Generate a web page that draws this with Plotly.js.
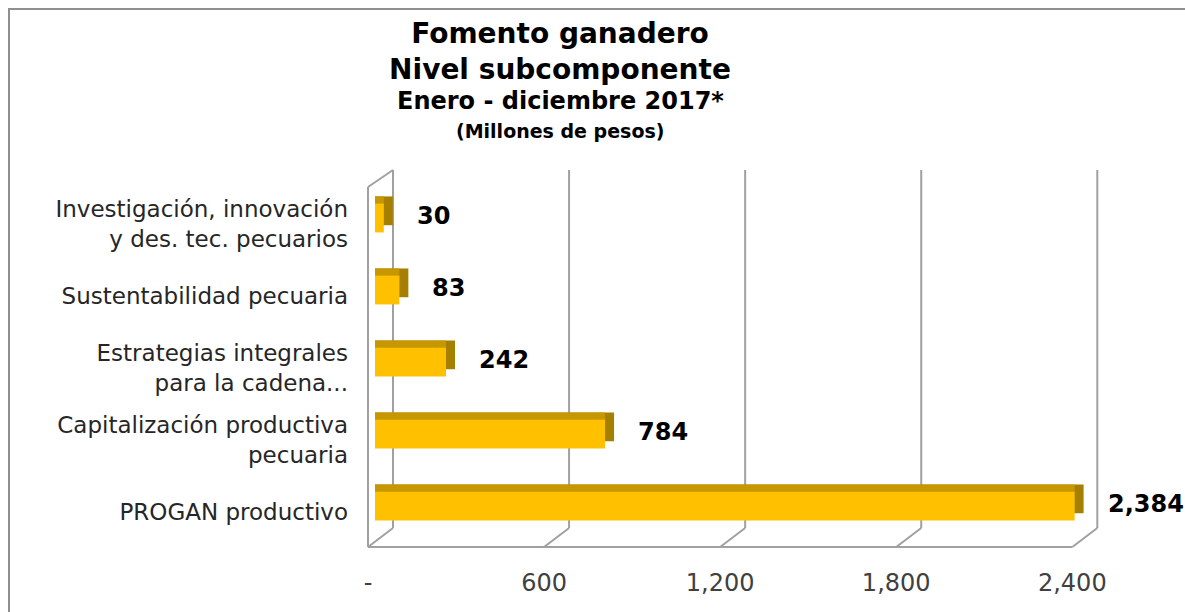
<!DOCTYPE html>
<html>
<head>
<meta charset="utf-8">
<script src="https://cdn.plot.ly/plotly-3.0.1.min.js"></script>
<style>
  html, body { margin: 0; padding: 0; background: #fff; overflow: hidden; }
  #grafica { width: 1185px; height: 612px; }
  /* marco exterior del gráfico */
  #marco { position: absolute; left: 8px; top: 8px; width: 1400px; height: 800px;
           border: 2px solid #8f8f8f; pointer-events: none; }
</style>
</head>
<body>
<div id="grafica"></div>
<div id="marco"></div>
<script>
// --- Datos (de abajo hacia arriba) ---
const categorias = [
  'PROGAN productivo',
  'Capitalización productiva<br>pecuaria',
  'Estrategias integrales<br>para la cadena...',
  'Sustentabilidad pecuaria',
  'Investigación, innovación<br>y des. tec. pecuarios'
];
const montos = [2384, 784, 242, 83, 30];
const etiquetasMonto = ['2,384', '784', '242', '83', '30'];
const ticksX = [0, 600, 1200, 1800, 2400];
const ticksXTexto = ['-', '600', '1,200', '1,800', '2,400'];

(function () {
  'use strict';

  const FONT = 'DejaVu Sans, Verdana, sans-serif';
  const W = 1185, H = 612;
  const M = { l: 360, r: 47, t: 170, b: 65 };
  const CERO_PX = 375;                          // donde empieza la cara frontal de las barras
  const X_MAX = 2600;
  const PX = (W - CERO_PX - M.r) / X_MAX;       // px por unidad
  const pxToX = p => p / PX;
  const X_MIN = -pxToX(CERO_PX - M.l);
  const PLOT_W = W - M.l - M.r, PLOT_H = H - M.t - M.b;

  // Efecto 3D (pseudo profundidad)
  const DX = pxToX(9);      // cara lateral
  const DY = 0.1;           // cara superior (en unidades de categoría)
  const ANCHO = 0.4;
  const FONDO = 18, FRENTE = -7;      // desplazamiento px de pared trasera / frente del piso
  const PISO_FONDO = 0.0504, PARED_IZQ = 0.955;
  const GRIS = '#a0a0a0';

  const idx = categorias.map((_, i) => i);

  const lateral = {
    type: 'bar', orientation: 'h', y: idx, x: montos.map(v => v + DX), base: 0,
    width: ANCHO, offset: -ANCHO / 2 + DY,
    marker: { color: '#a58000' }, hoverinfo: 'skip'
  };
  const superior = {
    type: 'bar', orientation: 'h', y: idx, x: montos, base: 0,
    width: ANCHO, offset: -ANCHO / 2 + DY,
    marker: { color: '#c69700' }, hoverinfo: 'skip'
  };
  const frente = {
    type: 'bar', orientation: 'h', y: idx, x: montos, base: 0,
    width: ANCHO, offset: -ANCHO / 2,
    marker: { color: '#ffc000' }, hoverinfo: 'skip'
  };

  // --- Marco 3D: paredes y rejilla ---
  const shapes = [];
  const linea = (x0, y0, x1, y1) => ({
    type: 'line', xref: 'x', yref: 'paper', layer: 'below',
    x0, y0, x1, y1, line: { color: GRIS, width: 2 }
  });
  ticksX.forEach(v => {
    shapes.push(linea(v + pxToX(FONDO), PISO_FONDO, v + pxToX(FONDO), 1));
    shapes.push(linea(v + pxToX(FONDO), PISO_FONDO, v + pxToX(FRENTE), 0));
  });
  shapes.push(linea(pxToX(FRENTE), 0, ticksX[ticksX.length - 1] + pxToX(FRENTE), 0));
  shapes.push(linea(pxToX(FRENTE), 0, pxToX(FRENTE), PARED_IZQ));
  shapes.push(linea(pxToX(FRENTE), PARED_IZQ, pxToX(FONDO), 1));

  // --- Etiquetas de valor ---
  const annotations = montos.map((v, i) => ({
    x: v, y: i, xref: 'x', yref: 'y', xanchor: 'left', yanchor: 'middle',
    xshift: 31, yshift: 2, showarrow: false, text: '<b>' + etiquetasMonto[i] + '</b>',
    font: { family: FONT, size: 24, color: '#000' }
  }));

  // subtítulos (líneas 3 y 4 del título)
  const xTit = (560 - M.l) / PLOT_W;
  const yPx = p => (H - M.b - p) / PLOT_H;
  annotations.push({
    xref: 'paper', yref: 'paper', x: xTit, y: yPx(101), xanchor: 'center', yanchor: 'middle',
    showarrow: false, text: '<b>Enero - diciembre 2017*</b>',
    font: { family: FONT, size: 24, color: '#000' }
  });
  annotations.push({
    xref: 'paper', yref: 'paper', x: xTit, y: yPx(131), xanchor: 'center', yanchor: 'middle',
    showarrow: false, text: '<b>(Millones de pesos)</b>',
    font: { family: FONT, size: 19, color: '#000' }
  });

  Plotly.newPlot('grafica', [lateral, superior, frente], {
    width: W, height: H,
    margin: M,
    barmode: 'overlay',
    showlegend: false,
    hovermode: false,
    paper_bgcolor: '#fff',
    plot_bgcolor: '#fff',
    title: {
      text: '<b>Fomento ganadero<br>Nivel subcomponente</b>',
      font: { family: FONT, size: 28, color: '#000' },
      xref: 'container', x: 560 / W, xanchor: 'center',
      yref: 'container', y: 1 - 43 / H, yanchor: 'top'
    },
    xaxis: {
      range: [X_MIN, X_MAX], fixedrange: true,
      tickmode: 'array', tickvals: ticksX, ticktext: ticksXTexto,
      showgrid: false, zeroline: false, showline: false, ticks: '',
      ticklabelshift: FRENTE, ticklabelstandoff: 19,
      tickfont: { family: FONT, size: 24, color: '#404040' },
      automargin: false
    },
    yaxis: {
      range: [-0.569, 4.667], fixedrange: true,
      tickmode: 'array', tickvals: idx, ticktext: categorias,
      showgrid: false, zeroline: false, showline: false, ticks: '',
      ticklabelstandoff: 11, ticklabelshift: 6,
      tickfont: { family: FONT, size: 23, color: '#262626' },
      automargin: false
    },
    shapes: shapes,
    annotations: annotations
  }, { displayModeBar: false, staticPlot: true });
})();
</script>
</body>
</html>
